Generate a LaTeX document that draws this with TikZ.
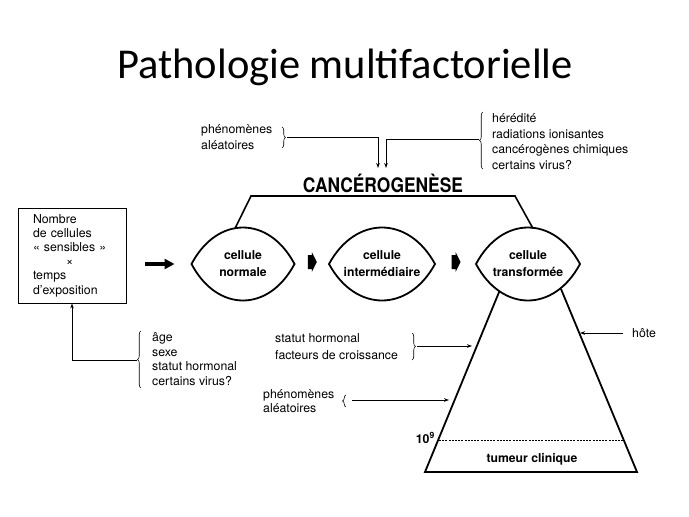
\documentclass[tikz,border=0pt]{standalone}
\usepackage{fontspec}
\setmainfont{TeX Gyre Heros}
\newfontfamily\titlefont{Carlito}
\usetikzlibrary{arrows.meta,decorations.pathreplacing,calc}
\newcommand\lensaround[3]{%
  \draw[lensline] ($(#1)+(-#2,0)$) coordinate (#1w)
    .. controls +(0.5*#2,-1.333*#3) and +(-0.5*#2,-1.333*#3) .. ($(#1)+(#2,0)$) coordinate (#1e)
    .. controls +(-0.5*#2,1.333*#3) and +(0.5*#2,1.333*#3) .. ($(#1)+(-#2,0)$) -- cycle;
  \coordinate (#1n) at ($(#1)+(0,-#3)$);
  \coordinate (#1s) at ($(#1)+(0,#3)$);}
\begin{document}
\begin{tikzpicture}[x=1pt,y=-1pt,
  lbl/.style={align=left, anchor=west, inner sep=0pt, font=\fontsize{12.3}{15.5}\selectfont},
  cell/.style={align=center, inner sep=0pt, font=\fontsize{12.2}{17}\selectfont\bfseries},
  lensline/.style={line width=1.8pt, line join=miter},
  thick line/.style={line width=1.6pt},
  conn/.style={line width=0.8pt, -{Stealth[length=5pt,width=3.6pt]}},
  brc/.style={line width=0.6pt, decorate, decoration={brace, amplitude=3.5pt}},
  blockarr/.pic={\fill (-4,-7) -- (0,-7) -- (0,-10) -- (5,0) -- (0,10) -- (0,7) -- (-4,7) -- cycle;}
]
\useasboundingbox (0,0) rectangle (689,517);
\fill[white] (0,0) rectangle (689,517);

% title
\node[anchor=base, inner sep=0pt, font=\titlefont\fontsize{42.5}{44}\selectfont] (title) at (345,78) {Pathologie multifactorielle};

% cells
\node[cell] (n1) at (243,264) {cellule\\normale};
\node[cell] (n2) at (382,264) {cellule\\intermédiaire};
\node[cell] (n3) at (528,264) {cellule\\transformée};
\lensaround{n1}{51.5}{36.5}
\lensaround{n2}{53}{36.5}
\lensaround{n3}{52}{36.5}

% block arrows between cells
\pic at ($(n1e)!0.5!(n2w)+(0,-2)$) {blockarr};
\pic at ($(n2e)!0.5!(n3w)+(0,-2)$) {blockarr};

% cancerogenese
\node[inner sep=0pt, font=\fontsize{20}{20}\selectfont\bfseries] (canc) at (383,183) {\scalebox{0.87}[1]{CANCÉROGENÈSE}};
\draw[thick line, line join=miter] ($(n1n)+(-8,1)$) -- (251,196) -- (515,196) -- ($(n3n)+(5,1)$);
\coordinate (cin) at (382,168);

% top-left factors
\node[lbl] (pa1) at (201,137) {phénomènes\\aléatoires};
\draw[brc] (282,127) -- (282,148);
\coordinate (b1) at (287,137.5);
\draw[conn] (b1) -| ([xshift=-4pt]cin);

% top-right factors
\node[lbl] (her) at (492,141.5) {hérédité\\radiations ionisantes\\cancérogènes chimiques\\certains virus?};
\draw[brc] (483,169) -- (483,112);
\coordinate (b2) at (479,139.5);
\draw[conn] (b2) -| ([xshift=4pt]cin);

% box
\node[draw, line width=0.9pt, minimum width=108pt, minimum height=95pt, inner sep=0pt,
      text width=78pt, align=left, font=\fontsize{12.3}{14.2}\selectfont] (box) at (72,255.5)
  {Nombre\\de cellules\\« sensibles »\\\hspace*{33pt}×\\temps\\d'exposition};
\draw[line width=3.5pt, -{Triangle[length=10pt,width=10pt]}, shorten <=19pt, shorten >=17pt]
  (box.east |- n1w) -- (n1w);

% bottom-left factors
\node[lbl, font=\fontsize{12.3}{14.7}\selectfont] (age) at (152,359) {âge\\sexe\\statut hormonal\\certains virus?};
\draw[brc] (141,388) -- (141,331);
\coordinate (b3) at (137,360);
\draw[conn] (b3) -| (box.south);

% cone
\coordinate (cTL) at (499.5,291);
\coordinate (cTR) at (561,289);
\coordinate (cBL) at (425,472);
\coordinate (cBR) at (637,472);
\draw[lensline, line join=miter] (cTL) -- (cBL) -- (cBR) -- (cTR);
\draw[line width=0.9pt, dash pattern=on 2pt off 1.2pt] (439,440) -- (623,440);
\node[inner sep=0pt, anchor=east, font=\fontsize{12.3}{12}\selectfont\bfseries] (ten) at (435,438) {10\textsuperscript{9}};
\node[cell] (tum) at (532,459) {tumeur clinique};

% statut hormonal / facteurs de croissance
\node[lbl, font=\fontsize{12.3}{16.7}\selectfont] (sh) at (275,346.5) {statut hormonal\\facteurs de croissance};
\draw[brc] (412,333) -- (412,360);
\coordinate (b4) at (417,346);
\coordinate (e4) at (472,346);
\draw[conn] (b4) -- (e4);

% phenomenes aleatoires (bottom)
\node[lbl, font=\fontsize{12.3}{14.5}\selectfont] (pa2) at (263,401) {phénomènes\\aléatoires};
\draw[brc] (346,407) -- (346,395);
\coordinate (b5) at (352,400);
\coordinate (e5) at (449,400);
\draw[conn] (b5) -- (e5);

% hote
\node[lbl] (hote) at (632,333) {hôte};
\coordinate (e6) at (580,333);
\draw[conn] ([xshift=-9pt]hote.west) -- (e6);
\end{tikzpicture}
\end{document}
